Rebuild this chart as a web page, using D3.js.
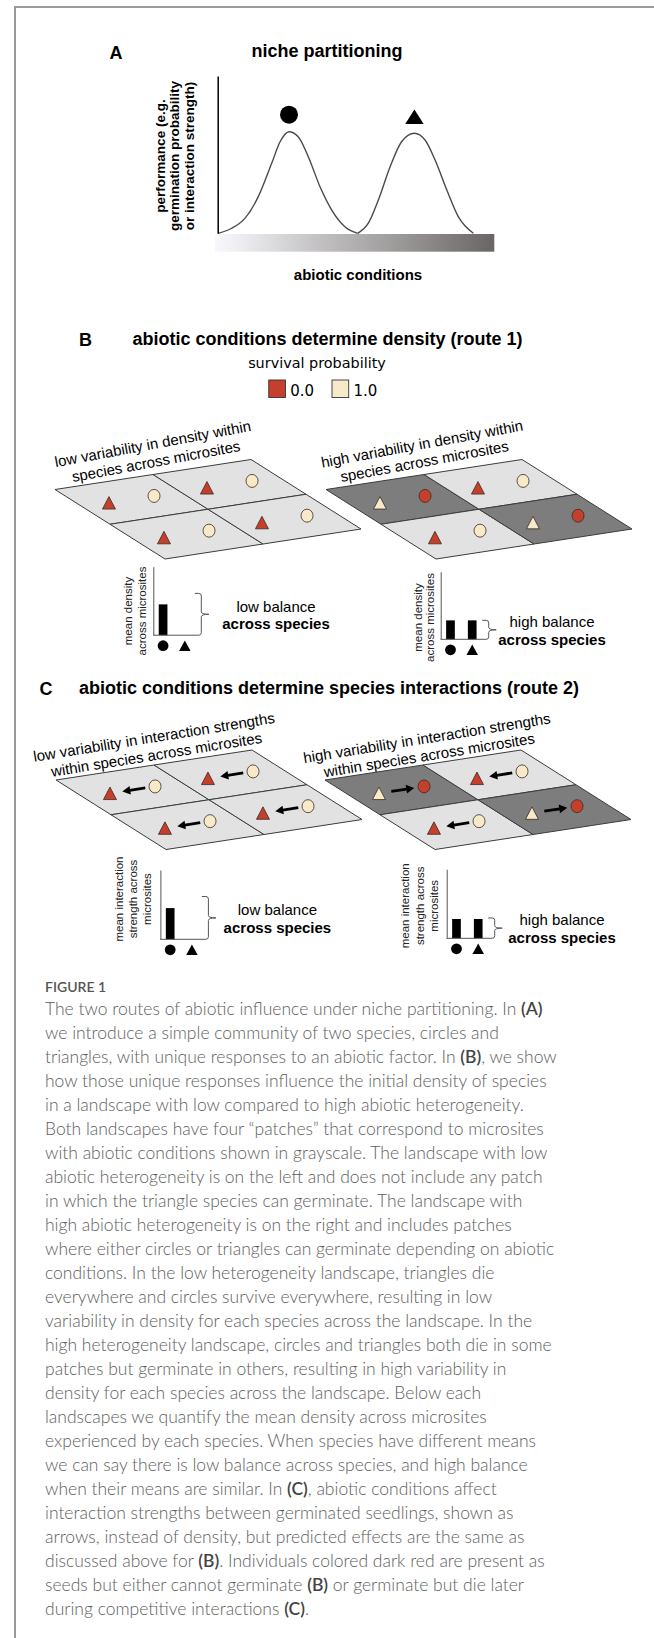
<!DOCTYPE html>
<html>
<head>
<meta charset="utf-8">
<script src="https://cdn.jsdelivr.net/npm/d3@7"></script>
<style>
  body { margin: 0; background: #fff; }
  svg { display: block; }
</style>
</head>
<body>
<svg id="fig" width="654" height="1638"></svg>
<script>
// ---------------- data ----------------
const species = ["circle", "triangle"];

// Panel A: performance of each species along the abiotic gradient (0-100)
const abioticCircle = [1.2, 6.0, 10.7, 15.5, 20.3, 23.3, 26.5, 29.8, 33.4, 37.6, 41.8, 46.5, 51.1];
const perfCircle    = [0, 0.032, 0.095, 0.233, 0.445, 0.582, 0.646, 0.614, 0.487, 0.296, 0.148, 0.042, 0];
const abioticTriangle = [51.1, 54.9, 58.5, 62.7, 66.8, 71.4, 75.2, 78.8, 83.0, 87.1, 92.5];
const perfTriangle    = [0, 0.064, 0.212, 0.423, 0.582, 0.636, 0.593, 0.466, 0.275, 0.106, 0];
const optimumAbiotic = [26.5, 71.4];
const optimumPerf = [0.646, 0.636];

// survival legend
const survivalValues = [0, 1];
const survivalLabels = ["0.0", "1.0"];

// landscape cells, order: back-left, back-right, front-left, front-right
const cellCols = [0, 1, 0, 1];
const cellRows = [0, 0, 1, 1];
const lowHetCondition  = ["benign", "benign", "benign", "benign"];
const highHetCondition = ["harsh", "benign", "benign", "harsh"];
const lowHetTriangleSurvival  = [0, 0, 0, 0];
const lowHetCircleSurvival    = [1, 1, 1, 1];
const highHetTriangleSurvival = [1, 0, 0, 1];
const highHetCircleSurvival   = [0, 1, 1, 0];
// competitive interactions: "c2t" circle suppresses triangle, "t2c" the reverse
const lowHetArrows  = ["c2t", "c2t", "c2t", "c2t"];
const highHetArrows = ["t2c", "c2t", "c2t", "t2c"];

// mean response across microsites per species
const meanDensityLow      = [0.45, 0];
const meanDensityHigh     = [0.28, 0.28];
const meanInteractionLow  = [0.45, 0];
const meanInteractionHigh = [0.28, 0.28];

const captionLines = [
  "The two routes of abiotic influence under niche partitioning. In (A)",
  "we introduce a simple community of two species, circles and",
  "triangles, with unique responses to an abiotic factor. In (B), we show",
  "how those unique responses influence the initial density of species",
  "in a landscape with low compared to high abiotic heterogeneity.",
  "Both landscapes have four \u201cpatches\u201d that correspond to microsites",
  "with abiotic conditions shown in grayscale. The landscape with low",
  "abiotic heterogeneity is on the left and does not include any patch",
  "in which the triangle species can germinate. The landscape with",
  "high abiotic heterogeneity is on the right and includes patches",
  "where either circles or triangles can germinate depending on abiotic",
  "conditions. In the low heterogeneity landscape, triangles die",
  "everywhere and circles survive everywhere, resulting in low",
  "variability in density for each species across the landscape. In the",
  "high heterogeneity landscape, circles and triangles both die in some",
  "patches but germinate in others, resulting in high variability in",
  "density for each species across the landscape. Below each",
  "landscapes we quantify the mean density across microsites",
  "experienced by each species. When species have different means",
  "we can say there is low balance across species, and high balance",
  "when their means are similar. In (C), abiotic conditions affect",
  "interaction strengths between germinated seedlings, shown as",
  "arrows, instead of density, but predicted effects are the same as",
  "discussed above for (B). Individuals colored dark red are present as",
  "seeds but either cannot germinate (B) or germinate but die later",
  "during competitive interactions (C)."
];

// ---------------- styles ----------------
const RED = "#c4402c", CREAM = "#f8e9c9";
const survivalColor = d3.scaleOrdinal().domain(survivalValues).range([RED, CREAM]);
const conditionColor = d3.scaleOrdinal().domain(["benign", "harsh"]).range(["#e2e2e2", "#7d7d7d"]);
const SANS = '"Liberation Sans", Arial, Helvetica, sans-serif';

const svg = d3.select("#fig");
const defs = svg.append("defs");

// card frame
svg.append("path")
  .attr("d", "M15,1638 L15,7 L654,7")
  .attr("fill", "none").attr("stroke", "#9a9a9a").attr("stroke-width", 2);

function text(g, x, y, str, opts = {}) {
  return g.append("text")
    .attr("x", x).attr("y", y)
    .attr("font-family", opts.family || SANS)
    .attr("font-size", opts.size || 15)
    .attr("font-weight", opts.weight || "normal")
    .attr("fill", opts.fill || "#000")
    .attr("text-anchor", opts.anchor || "start")
    .attr("transform", opts.rotate != null ? `rotate(${opts.rotate},${x},${y})` : null)
    .text(str);
}

function trianglePath(cx, cy, w, h) {
  return `M${cx},${cy - h / 2} L${cx + w / 2},${cy + h / 2} L${cx - w / 2},${cy + h / 2} Z`;
}

// ---------------- panel A ----------------
const gA = svg.append("g");
const xA = d3.scaleLinear().domain([0, 100]).range([215, 494.3]);
const yA = d3.scaleLinear().domain([0, 1]).range([233.3, 76]);

text(gA, 116, 59, "A", { size: 18, weight: "bold", anchor: "middle" });
text(gA, 327, 57, "niche partitioning", { size: 18, weight: "bold", anchor: "middle" });

const grad = defs.append("linearGradient").attr("id", "abioticGrad")
  .attr("x1", "0%").attr("x2", "100%").attr("y1", "0%").attr("y2", "0%");
[[0, "#f7f7fc"], [0.08, "#efeff3"], [0.35, "#c6c4c6"], [0.65, "#9d9a9a"], [1, "#6a6565"]]
  .forEach(([o, c]) => grad.append("stop").attr("offset", o).attr("stop-color", c));

gA.append("rect")
  .attr("x", xA(0)).attr("y", 234)
  .attr("width", xA(100) - xA(0)).attr("height", 17.7)
  .attr("fill", "url(#abioticGrad)");

const perfLine = d3.line().x(d => xA(d[0])).y(d => yA(d[1])).curve(d3.curveMonotoneX);
[d3.zip(abioticCircle, perfCircle), d3.zip(abioticTriangle, perfTriangle)].forEach(pts => {
  gA.append("path").attr("d", perfLine(pts))
    .attr("fill", "none").attr("stroke", "#4a4a4a").attr("stroke-width", 1.4);
});

const axA = gA.append("g").attr("transform", "translate(217.7,0)")
  .call(d3.axisLeft(yA).ticks(0).tickSizeOuter(0));
axA.select(".domain").attr("stroke", "#000").attr("stroke-width", 1.5);

// species symbols above their optima
gA.append("circle")
  .attr("cx", xA(optimumAbiotic[0])).attr("cy", yA(optimumPerf[0]) - 17)
  .attr("r", 9).attr("fill", "#000");
gA.append("path")
  .attr("d", trianglePath(xA(optimumAbiotic[1]), yA(optimumPerf[1]) - 16.5, 18.5, 14.5))
  .attr("fill", "#000");

["performance (e.g.", "germination probability", "or interaction strength)"].forEach((s, i) => {
  const x = [164.5, 179.2, 193.5][i];
  text(gA, x, 156, s, { size: 13.5, weight: "bold", anchor: "middle", rotate: -90 });
});
text(gA, 358, 280, "abiotic conditions", { size: 15, weight: "bold", anchor: "middle" });

// ---------------- landscapes ----------------
const shapeU = [196, -30], shapeV = [110, 69.5];
const cellFrac = d3.scaleLinear().domain([0, 2]).range([0, 1]);

function drawLandscape(origin, condition, triSurv, circSurv, arrows) {
  const g = svg.append("g");
  const proj = (c, r) => {
    const s = cellFrac(c), t = cellFrac(r);
    return [origin[0] + s * shapeU[0] + t * shapeV[0], origin[1] + s * shapeU[1] + t * shapeV[1]];
  };
  cellCols.forEach((c, i) => {
    const r = cellRows[i];
    const pts = [proj(c, r), proj(c + 1, r), proj(c + 1, r + 1), proj(c, r + 1)];
    g.append("path")
      .attr("d", "M" + pts.map(p => p.join(",")).join("L") + "Z")
      .attr("fill", conditionColor(condition[i]))
      .attr("stroke", "#3c3c3c").attr("stroke-width", 1);
  });
  cellCols.forEach((c, i) => {
    const r = cellRows[i];
    const tri = proj(c + 0.27, r + 0.5);
    const cir = proj(c + 0.73, r + 0.5);
    if (arrows) {
      const near = proj(c + 0.396, r + 0.5), far = proj(c + 0.63, r + 0.5);
      const [from, to] = arrows[i] === "c2t" ? [far, near] : [near, far];
      const dx = to[0] - from[0], dy = to[1] - from[1];
      const len = Math.hypot(dx, dy), ux = dx / len, uy = dy / len;
      const hl = 8, hw = 4.4;
      const base = [to[0] - ux * hl, to[1] - uy * hl];
      g.append("line")
        .attr("x1", from[0]).attr("y1", from[1])
        .attr("x2", base[0] + ux * 0.5).attr("y2", base[1] + uy * 0.5)
        .attr("stroke", "#000").attr("stroke-width", 2.8);
      g.append("path")
        .attr("d", `M${to[0]},${to[1]} L${base[0] - uy * hw},${base[1] + ux * hw} L${base[0] + uy * hw},${base[1] - ux * hw} Z`)
        .attr("fill", "#000");
    }
    g.append("path")
      .attr("d", trianglePath(tri[0], tri[1], 13, 12.5))
      .attr("fill", survivalColor(triSurv[i])).attr("stroke", "#3a2a22").attr("stroke-width", 0.8);
    g.append("ellipse")
      .attr("cx", cir[0]).attr("cy", cir[1]).attr("rx", 6).attr("ry", 6.5)
      .attr("fill", survivalColor(circSurv[i])).attr("stroke", "#3a2a22").attr("stroke-width", 0.8);
  });
  return g;
}

function drawTitle(lines, rot) {
  lines.forEach(([x, y, s]) => text(svg, x, y, s, { size: 15, anchor: "middle", rotate: rot }));
}

// ---------------- mean-response bar charts ----------------
function drawBars(cfg, values) {
  const g = svg.append("g");
  const y = d3.scaleLinear().domain([0, 1]).range([cfg.base, cfg.top]);
  const x = d3.scaleBand().domain(species).range([cfg.axisX, cfg.axisX + 41.3])
    .paddingInner(0.6).paddingOuter(0.25);
  const bw = x.bandwidth();

  g.selectAll("rect.bar").data(values).join("rect")
    .attr("class", "bar")
    .attr("x", (d, i) => x(species[i])).attr("y", d => y(d))
    .attr("width", bw).attr("height", d => cfg.base - y(d))
    .attr("fill", "#000");

  const ax = g.append("g").attr("transform", `translate(${cfg.axisX},0)`)
    .call(d3.axisLeft(y).ticks(0).tickSizeOuter(0));
  ax.select(".domain").attr("stroke", "#555").attr("stroke-width", 1);

  // brace from the tallest bar down to the baseline
  const x0 = cfg.axisX + 41.5, x1 = cfg.axisX + 48, xt = cfg.axisX + 55.5;
  const top = y(d3.max(values)) - cfg.bracePad, bot = cfg.base, mid = (top + bot) / 2, r = 2.5;
  g.append("path")
    .attr("d", `M${cfg.axisX},${bot} L${x1 - r},${bot} Q${x1},${bot} ${x1},${bot - r} L${x1},${mid + r} ` +
               `Q${x1},${mid} ${xt},${mid} Q${x1},${mid} ${x1},${mid - r} L${x1},${top + r} ` +
               `Q${x1},${top} ${x1 - r},${top} L${x0},${top}`)
    .attr("fill", "none").attr("stroke", "#555").attr("stroke-width", 1);

  // species symbols under the bars
  const my = cfg.base + 10.5;
  g.append("circle").attr("cx", x("circle") + bw / 2).attr("cy", my).attr("r", 5.4).attr("fill", "#000");
  g.append("path").attr("d", trianglePath(x("triangle") + bw / 2, my, 11.5, 10.5)).attr("fill", "#000");

  cfg.label.forEach((s, i) => {
    text(g, cfg.axisX + cfg.labelDx[i], cfg.labelY, s, { size: 11.5, anchor: "middle", rotate: -90, fill: "#222" });
  });
  text(g, cfg.textX, mid - 2.7, cfg.balance, { size: 15, anchor: "middle" });
  text(g, cfg.textX, mid + 15.2, "across species", { size: 15, weight: "bold", anchor: "middle" });
}

// ---------------- panel B ----------------
text(svg, 85.5, 346, "B", { size: 18, weight: "bold", anchor: "middle" });
text(svg, 132.5, 345, "abiotic conditions determine density (route 1)", { size: 18, weight: "bold" });
text(svg, 317, 368.3, "survival probability", { size: 14.4, family: '"DejaVu Sans", Verdana, sans-serif', anchor: "middle" });

const legendX = d3.scalePoint().domain(survivalValues).range([268.75, 332]);
survivalValues.forEach((v, i) => {
  svg.append("rect")
    .attr("x", legendX(v)).attr("y", 380).attr("width", 16.7).attr("height", 17.5)
    .attr("fill", survivalColor(v)).attr("stroke", "#333").attr("stroke-width", 0.9);
  text(svg, legendX(v) + 21.5, 396, survivalLabels[i], { size: 15, family: '"DejaVu Sans", Verdana, sans-serif' });
});

drawTitle([[153.7, 449, "low variability in density within"], [157, 466.5, "species across microsites"]], -10.5);
drawTitle([[423, 449, "high variability in density within"], [425.4, 466.5, "species across microsites"]], -10.5);

drawLandscape([55, 489.5], lowHetCondition, lowHetTriangleSurvival, lowHetCircleSurvival, null);
drawLandscape([326, 489.5], highHetCondition, highHetTriangleSurvival, highHetCircleSurvival, null);

drawBars({ axisX: 153.3, top: 566.7, base: 635.2, bracePad: 11, labelY: 611, labelDx: [-21, -7],
           label: ["mean density", "across microsites"], textX: 276, balance: "low balance" }, meanDensityLow);
drawBars({ axisX: 440.7, top: 571.7, base: 639.3, bracePad: 0, labelY: 617.5, labelDx: [-18.4, -6.7],
           label: ["mean density", "across microsites"], textX: 552, balance: "high balance" }, meanDensityHigh);

// ---------------- panel C ----------------
text(svg, 46, 695, "C", { size: 18, weight: "bold", anchor: "middle" });
text(svg, 79, 694, "abiotic conditions determine species interactions (route 2)", { size: 18, weight: "bold" });

drawTitle([[154.8, 742.3, "low variability in interaction strengths"], [157.3, 759.8, "within species across microsites"]], -9.2);
drawTitle([[427.8, 743.2, "high variability in interaction strengths"], [430, 760.3, "within species across microsites"]], -9.2);

drawLandscape([56, 780], lowHetCondition, lowHetTriangleSurvival, lowHetCircleSurvival, lowHetArrows);
drawLandscape([325, 780], highHetCondition, highHetTriangleSurvival, highHetCircleSurvival, highHetArrows);

drawBars({ axisX: 160.4, top: 870, base: 939.3, bracePad: 11.6, labelY: 899, labelDx: [-37.4, -23.4, -9.4],
           label: ["mean interaction", "strength across", "microsites"], textX: 277.4, balance: "low balance" }, meanInteractionLow);
drawBars({ axisX: 446.7, top: 869.3, base: 938.3, bracePad: 1, labelY: 905.8, labelDx: [-37.7, -22.7, -9.1],
           label: ["mean interaction", "strength across", "microsites"], textX: 562, balance: "high balance" }, meanInteractionHigh);

// ---------------- caption ----------------
const CAP = 'Lato, "Open Sans", "Noto Sans", sans-serif';
text(svg, 45, 991.7, "FIGURE 1", { size: 14, weight: 600, family: CAP, fill: "#555" });
captionLines.forEach((line, i) => {
  const t = svg.append("text")
    .attr("x", 45).attr("y", 1015 + 24 * i)
    .attr("font-family", CAP).attr("font-size", 17.5)
    .attr("font-weight", 300).attr("fill", "#5e5e5e");
  line.split(/(\([ABC]\))/).filter(s => s.length).forEach(part => {
    const bold = /^\([ABC]\)$/.test(part);
    t.append("tspan")
      .attr("font-weight", bold ? 600 : 300)
      .attr("fill", bold ? "#444" : "#5e5e5e")
      .text(part);
  });
});
</script>
</body>
</html>
